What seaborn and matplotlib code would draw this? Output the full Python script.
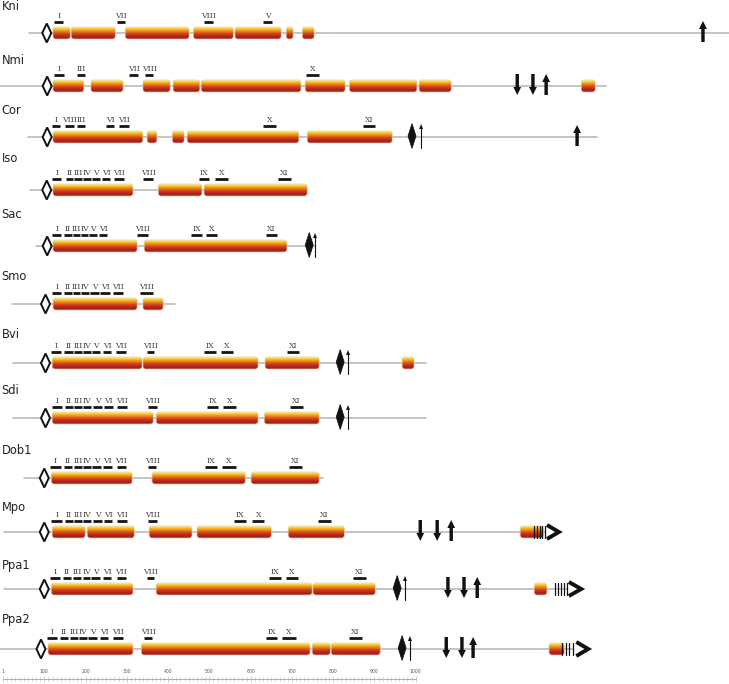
import numpy as np
import pandas as pd
import matplotlib
matplotlib.use('Agg')
import matplotlib.pyplot as plt
import seaborn as sns
from matplotlib.patches import FancyBboxPatch, Polygon
from matplotlib.colors import LinearSegmentedColormap

sns.set_theme(style='white')
plt.rcParams['font.family'] = ['DejaVu Sans']

# ---- data (positions in residues) ----
genes = ['Kni', 'Nmi', 'Cor', 'Iso', 'Sac', 'Smo', 'Bvi', 'Sdi', 'Dob1', 'Mpo', 'Ppa1', 'Ppa2']

backbone = {
    'Kni': (63, 1760), 'Nmi': (-10, 1461), 'Cor': (61, 1440), 'Iso': (66, 737),
    'Sac': (80, 756), 'Smo': (22, 417), 'Bvi': (24, 1025), 'Sdi': (24, 1025),
    'Dob1': (51, 776), 'Mpo': (3, 1313), 'Ppa1': (3, 1367), 'Ppa2': (-10, 1381),
}

exons = {
    'Kni': [(121, 163), (165, 272), (296, 451), (461, 558), (562, 674), (686, 703), (725, 754)],
    'Nmi': [(121, 196), (213, 291), (339, 405), (412, 477), (480, 722), (732, 829),
            (839, 1003), (1008, 1086), (1401, 1435)],
    'Cor': [(121, 339), (349, 373), (410, 439), (446, 717), (737, 943)],
    'Iso': [(121, 315), (376, 482), (487, 737)],
    'Sac': [(121, 325), (342, 688)],
    'Smo': [(121, 325), (339, 388)],
    'Bvi': [(119, 337), (339, 618), (635, 766), (967, 996)],
    'Sdi': [(119, 364), (371, 618), (633, 766)],
    'Dob1': [(117, 313), (361, 587), (601, 766)],
    'Mpo': [(119, 199), (204, 318), (354, 458), (470, 650), (691, 827), (1253, 1309)],
    'Ppa1': [(117, 315), (371, 749), (751, 902), (1287, 1318)],
    'Ppa2': [(109, 315), (335, 744), (749, 793), (795, 914), (1323, 1360)],
}

motifs = {
    'Kni': [('I', 124, 146), ('VII', 276, 296), ('VIII', 487, 509), ('V', 630, 652)],
    'Nmi': [('I', 124, 148), ('III', 180, 199), ('VII', 306, 327), ('VIII', 344, 364), ('X', 734, 766)],
    'Cor': [('I', 119, 138), ('VIII', 150, 172), ('III', 180, 199), ('VI', 250, 269),
            ('VII', 281, 306), ('X', 630, 662), ('XI', 872, 902)],
    'Iso': [('I', 119, 141), ('II', 153, 170), ('III', 172, 192), ('IV', 194, 213), ('V', 216, 235),
            ('VI', 240, 260), ('VII', 269, 293), ('VIII', 339, 364), ('IX', 475, 499),
            ('X', 514, 545), ('XI', 667, 698)],
    'Sac': [('I', 119, 141), ('II', 148, 167), ('III', 170, 187), ('IV', 189, 206), ('V', 209, 228),
            ('VI', 233, 252), ('VIII', 325, 352), ('IX', 456, 482), ('X', 492, 519), ('XI', 638, 664)],
    'Smo': [('I', 119, 141), ('II', 148, 167), ('III', 170, 187), ('IV', 189, 209), ('V', 211, 233),
            ('VI', 235, 260), ('VII', 267, 291), ('VIII', 332, 364)],
    'Bvi': [('I', 117, 141), ('II', 148, 170), ('III', 172, 192), ('IV', 194, 213), ('V', 216, 235),
            ('VI', 243, 262), ('VII', 274, 298), ('VIII', 349, 366), ('IX', 487, 516),
            ('X', 528, 557), ('XI', 688, 717)],
    'Sdi': [('I', 119, 143), ('II', 150, 170), ('III', 172, 192), ('IV', 194, 213), ('V', 218, 240),
            ('VI', 245, 267), ('VII', 276, 301), ('VIII', 352, 373), ('IX', 495, 521),
            ('X', 533, 565), ('XI', 696, 727)],
    'Dob1': [('I', 114, 141), ('II', 148, 167), ('III', 172, 192), ('IV', 194, 213), ('V', 216, 238),
             ('VI', 243, 264), ('VII', 276, 298), ('VIII', 352, 371), ('IX', 490, 519),
             ('X', 531, 565), ('XI', 693, 725)],
    'Mpo': [('I', 117, 143), ('II', 150, 170), ('III', 172, 192), ('IV', 194, 213), ('V', 218, 240),
            ('VI', 245, 264), ('VII', 276, 301), ('VIII', 352, 373), ('IX', 560, 589),
            ('X', 604, 633), ('XI', 763, 795)],
    'Ppa1': [('I', 114, 138), ('II', 146, 165), ('III', 170, 189), ('IV', 194, 211), ('V', 213, 235),
             ('VI', 243, 262), ('VII', 276, 298), ('VIII', 349, 366), ('IX', 645, 674),
             ('X', 686, 715), ('XI', 848, 880)],
    'Ppa2': [('I', 107, 131), ('II', 138, 158), ('III', 163, 182), ('IV', 184, 204), ('V', 206, 228),
             ('VI', 235, 255), ('VII', 267, 291), ('VIII', 342, 361), ('IX', 638, 664),
             ('X', 676, 710), ('XI', 838, 870)],
}

open_diamond = {'Kni': 106, 'Nmi': 107, 'Cor': 107, 'Iso': 106, 'Sac': 107, 'Smo': 103,
                'Bvi': 103, 'Sdi': 103, 'Dob1': 100, 'Mpo': 100, 'Ppa1': 100, 'Ppa2': 92}
filled_diamond = {'Cor': 991, 'Sac': 742, 'Bvi': 817, 'Sdi': 817, 'Ppa1': 955, 'Ppa2': 967}
thin_arrow = {'Cor': 1013, 'Sac': 756, 'Bvi': 836, 'Sdi': 836, 'Ppa1': 974, 'Ppa2': 986}
bold_arrows = {
    'Kni': [(1696, 'up')],
    'Nmi': [(1246, 'down'), (1284, 'down'), (1316, 'up')],
    'Cor': [(1391, 'up')],
    'Mpo': [(1011, 'down'), (1052, 'down'), (1086, 'up')],
    'Ppa1': [(1078, 'down'), (1117, 'down'), (1149, 'up')],
    'Ppa2': [(1074, 'down'), (1112, 'down'), (1139, 'up')],
}
stripes = {'Mpo': [1287, 1294, 1300, 1306, 1313],
           'Ppa1': [1338, 1345, 1352, 1359, 1367],
           'Ppa2': [1355, 1364, 1372, 1381]}
chevrons = {'Mpo': (1318, 1347), 'Ppa1': (1371, 1401), 'Ppa2': (1389, 1418)}

ruler_ticks = [1, 100, 200, 300, 400, 500, 600, 700, 800, 900, 1000]

# ---- layout (pixel rows) ----
row_y = [33, 86, 137, 190, 246, 304, 363, 418, 478, 532, 589, 649]
label_y = [7, 61, 110, 159, 215, 276, 335, 391, 450, 508, 565, 619]
PX = 2.423          # residues per pixel
EXON_H = 12
X0 = -7.3

fig = plt.figure(figsize=(7.29, 6.84), dpi=100)
ax = fig.add_axes([0, 0, 1, 1])

exon_cmap = LinearSegmentedColormap.from_list(
    'exon', [(0, '#fdf0c0'), (0.08, '#f9dc4a'), (0.2, '#f4b81c'), (0.38, '#e87a1a'),
             (0.56, '#d2421b'), (0.75, '#b8261b'), (1, '#9c1a18')])
grad = np.linspace(0, 1, 64).reshape(-1, 1)

# backbones via seaborn
bb = pd.DataFrame([(g, p, y) for g, y in zip(genes, row_y) for p in backbone[g]],
                  columns=['gene', 'pos', 'y'])
sns.lineplot(data=bb, x='pos', y='y', units='gene', estimator=None, sort=False,
             color='#b4b4b4', lw=1.1, ax=ax, legend=False)

for g, y, ly in zip(genes, row_y, label_y):
    ax.text(X0 + 1.5 * PX, ly, g, fontsize=8.3, color='#222', va='center', ha='left')

    # exons
    for a, b in exons[g]:
        box = FancyBboxPatch((a, y - EXON_H / 2), b - a, EXON_H,
                             boxstyle='round,pad=0,rounding_size=6.5',
                             mutation_aspect=1 / PX, facecolor='none',
                             edgecolor='#e0cfa8', lw=0.5, zorder=3)
        ax.add_patch(box)
        im = ax.imshow(grad, cmap=exon_cmap, aspect='auto', origin='upper',
                       extent=[a, b, y + EXON_H / 2, y - EXON_H / 2], zorder=2,
                       interpolation='bilinear')
        im.set_clip_path(box)

    # motif bars and labels
    for name, a, b in motifs[g]:
        ax.hlines(y - 11.5, a, b, color='#151515', lw=2.0, zorder=3)
        ax.text((a + b) / 2, y - 13, name, fontsize=5.6, family='DejaVu Serif',
                color='#444', ha='center', va='bottom')

    # open diamond
    x = open_diamond[g]
    ax.add_patch(Polygon([(x, y - 9.5), (x + 4.5 * PX, y), (x, y + 9.5), (x - 4.5 * PX, y)],
                         closed=True, facecolor='white', edgecolor='#111', lw=1.4, zorder=4))

    if g in filled_diamond:
        x = filled_diamond[g]
        ax.add_patch(Polygon([(x, y - 13.5), (x + 4 * PX, y - 1), (x, y + 11.5), (x - 4 * PX, y - 1)],
                             closed=True, facecolor='#111', edgecolor='#111', lw=0.5, zorder=4))
    if g in thin_arrow:
        x = thin_arrow[g]
        ax.plot([x, x], [y + 11, y - 9], color='#111', lw=0.8, zorder=4)
        ax.add_patch(Polygon([(x, y - 13), (x + 2 * PX, y - 8), (x - 2 * PX, y - 8)],
                             closed=True, facecolor='#111', edgecolor='none', zorder=4))

    for x, d in bold_arrows.get(g, []):
        tip, tail, sgn = (y - 12, y + 9, 1) if d == 'up' else (y + 9, y - 12, -1)
        base = tip + sgn * 8
        hs, hh = 1.7 * PX, 3.9 * PX
        ax.add_patch(Polygon([(x - hs, tail), (x - hs, base), (x - hh, base), (x, tip),
                              (x + hh, base), (x + hs, base), (x + hs, tail)],
                             closed=True, facecolor='#111', edgecolor='none', zorder=4))

    for x in stripes.get(g, []):
        ax.plot([x, x], [y - 6, y + 6], color='#111', lw=0.9, zorder=5)
    if g in chevrons:
        a, b = chevrons[g]
        ax.plot([a, b, a], [y - 7, y, y + 7], color='#111', lw=2.8,
                solid_joinstyle='miter', solid_capstyle='butt', zorder=5)

# scale ruler
ry = 679
ax.plot([1, 1000], [ry, ry], color='#a0a0a0', lw=0.6)
for v in range(10, 1001, 10):
    h = 3 if v % 100 == 0 else 2
    ax.plot([v, v], [ry - h, ry + h], color='#b0b0b0', lw=0.4)
ax.plot([1, 1], [ry - 3, ry + 3], color='#b0b0b0', lw=0.4)
for v in ruler_ticks:
    ax.text(v, ry - 5, str(v), fontsize=3.3, color='#555', ha='center', va='bottom')

ax.set_xlim(X0, X0 + 729 * PX)
ax.set_ylim(684, 0)
ax.axis('off')
fig.savefig('out.png', dpi=100)
